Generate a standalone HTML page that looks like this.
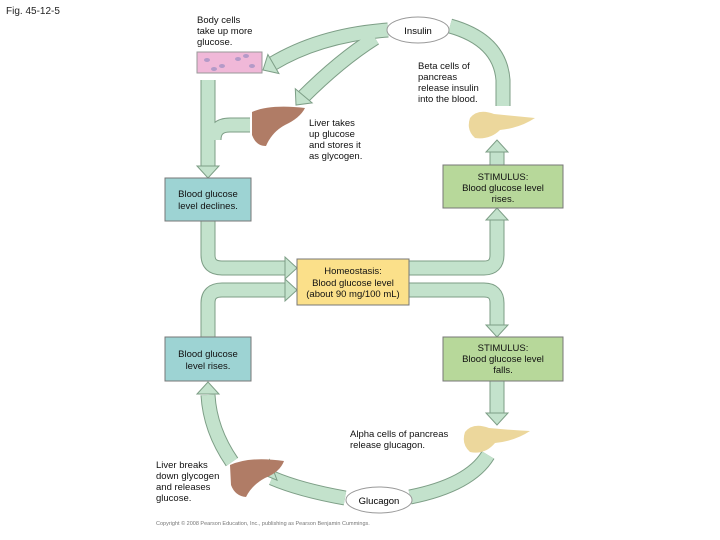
<!DOCTYPE html>
<html><head><meta charset="utf-8"><style>
body{margin:0;background:#fff;}
svg{display:block;font-family:"Liberation Sans",sans-serif;}
</style></head><body>
<svg width="720" height="540" viewBox="0 0 720 540" xmlns="http://www.w3.org/2000/svg">
<defs>
<g id="ah"><polygon points="-11,-12 11,-12 0,0" fill="#c3e2cc" stroke="#7d9e86" stroke-width="1"/></g>
</defs>
<text x="6" y="14" font-size="10" fill="#222">Fig. 45-12-5</text>
<g fill="none" stroke-linecap="butt" stroke-linejoin="round">
<g stroke="#7d9e86" stroke-width="15">
<path d="M208 80 V166"/>
<path d="M250 125 H230 Q214 125 214 140"/>
<path d="M208 221 V255 Q208 268 222 268 H286"/>
<path d="M409 268 H484 Q497 268 497 255 V220"/>
<path d="M497 165 V152"/>
<path d="M503 106 V80 Q500 40 450 26"/>
<path d="M388 30 Q320 35 272 64"/>
<path d="M375 38 Q340 60 302 98"/>
<path d="M409 290 H484 Q497 290 497 303 V326"/>
<path d="M497 381 V414"/>
<path d="M488 455 Q470 485 410 497"/>
<path d="M345 498 Q300 490 272 478"/>
<path d="M232 462 Q210 430 208 395"/>
<path d="M208 337 V303 Q208 290 222 290 H286"/>
</g>
<g stroke="#c3e2cc" stroke-width="13">
<path d="M208 80 V166"/>
<path d="M250 125 H230 Q214 125 214 140"/>
<path d="M208 221 V255 Q208 268 222 268 H286"/>
<path d="M409 268 H484 Q497 268 497 255 V220"/>
<path d="M497 165 V152"/>
<path d="M503 106 V80 Q500 40 450 26"/>
<path d="M388 30 Q320 35 272 64"/>
<path d="M375 38 Q340 60 302 98"/>
<path d="M409 290 H484 Q497 290 497 303 V326"/>
<path d="M497 381 V414"/>
<path d="M488 455 Q470 485 410 497"/>
<path d="M345 498 Q300 490 272 478"/>
<path d="M232 462 Q210 430 208 395"/>
<path d="M208 337 V303 Q208 290 222 290 H286"/>
</g>
</g>
<use href="#ah" transform="translate(208,178)"/>
<use href="#ah" transform="translate(297,268) rotate(-90)"/>
<use href="#ah" transform="translate(297,290) rotate(-90)"/>
<use href="#ah" transform="translate(497,208) rotate(180)"/>
<use href="#ah" transform="translate(497,140) rotate(180)"/>
<use href="#ah" transform="translate(497,337)"/>
<use href="#ah" transform="translate(497,425)"/>
<use href="#ah" transform="translate(263,70) rotate(60)"/>
<use href="#ah" transform="translate(296,105) rotate(40)"/>
<use href="#ah" transform="translate(262,474) rotate(70)"/>
<use href="#ah" transform="translate(208,382) rotate(180)"/>
<rect x="165" y="178" width="86" height="43" fill="#9dd3d3" stroke="#777" stroke-width="1"/>
<text font-size="9.5" text-anchor="middle" fill="#111"><tspan x="208" y="197">Blood glucose</tspan><tspan x="208" y="209">level declines.</tspan></text>
<rect x="443" y="165" width="120" height="43" fill="#b7d89a" stroke="#777" stroke-width="1"/>
<text font-size="9.5" text-anchor="middle" fill="#111"><tspan x="503" y="180">STIMULUS:</tspan><tspan x="503" y="191">Blood glucose level</tspan><tspan x="503" y="202">rises.</tspan></text>
<rect x="297" y="259" width="112" height="46" fill="#fbe08a" stroke="#777" stroke-width="1"/>
<text font-size="9.5" text-anchor="middle" fill="#111"><tspan x="353" y="274">Homeostasis:</tspan><tspan x="353" y="286">Blood glucose level</tspan><tspan x="353" y="297">(about 90 mg/100 mL)</tspan></text>
<rect x="165" y="337" width="86" height="44" fill="#9dd3d3" stroke="#777" stroke-width="1"/>
<text font-size="9.5" text-anchor="middle" fill="#111"><tspan x="208" y="357">Blood glucose</tspan><tspan x="208" y="369">level rises.</tspan></text>
<rect x="443" y="337" width="120" height="44" fill="#b7d89a" stroke="#777" stroke-width="1"/>
<text font-size="9.5" text-anchor="middle" fill="#111"><tspan x="503" y="351">STIMULUS:</tspan><tspan x="503" y="362">Blood glucose level</tspan><tspan x="503" y="373">falls.</tspan></text>
<ellipse cx="418" cy="30" rx="31" ry="13" fill="#fff" stroke="#999"/>
<text x="418" y="34" font-size="9.5" text-anchor="middle">Insulin</text>
<ellipse cx="379" cy="500" rx="33" ry="13" fill="#fff" stroke="#999"/>
<text x="379" y="504" font-size="9.5" text-anchor="middle">Glucagon</text>
<rect x="197" y="52" width="65" height="21" fill="#f0b8d8" stroke="#999"/>
<g fill="#b49ac8"><ellipse cx="207" cy="60" rx="3" ry="2"/><ellipse cx="222" cy="66" rx="3" ry="2"/><ellipse cx="238" cy="59" rx="3" ry="2"/><ellipse cx="252" cy="66" rx="3" ry="2"/><ellipse cx="214" cy="69" rx="3" ry="2"/><ellipse cx="246" cy="56" rx="3" ry="2"/></g>
<path d="M252 112 Q270 104 305 108 Q300 118 285 125 Q272 132 266 146 Q256 146 252 135 Z" fill="#b07c66"/>
<path d="M230 465 Q250 456 284 461 Q280 472 265 478 Q252 485 246 497 Q235 496 231 485 Z" fill="#b07c66"/>
<path d="M470 118 Q478 108 494 114 Q515 116 535 118 Q520 128 500 130 Q490 140 475 138 Q466 130 470 118 Z" fill="#ecd79c"/>
<path d="M465 432 Q473 422 489 428 Q510 430 530 431 Q515 441 495 443 Q485 455 470 452 Q461 444 465 432 Z" fill="#ecd79c"/>
<text font-size="9.5" fill="#111"><tspan x="197" y="23">Body cells</tspan><tspan x="197" y="34">take up more</tspan><tspan x="197" y="45">glucose.</tspan></text>
<text font-size="9.5" fill="#111"><tspan x="418" y="69">Beta cells of</tspan><tspan x="418" y="80">pancreas</tspan><tspan x="418" y="91">release insulin</tspan><tspan x="418" y="102">into the blood.</tspan></text>
<text font-size="9.5" fill="#111"><tspan x="309" y="126">Liver takes</tspan><tspan x="309" y="137">up glucose</tspan><tspan x="309" y="148">and stores it</tspan><tspan x="309" y="159">as glycogen.</tspan></text>
<text font-size="9.5" fill="#111"><tspan x="350" y="437">Alpha cells of pancreas</tspan><tspan x="350" y="448">release glucagon.</tspan></text>
<text font-size="9.5" fill="#111"><tspan x="156" y="468">Liver breaks</tspan><tspan x="156" y="479">down glycogen</tspan><tspan x="156" y="490">and releases</tspan><tspan x="156" y="501">glucose.</tspan></text>
<text x="156" y="525" font-size="5.5" fill="#777">Copyright © 2008 Pearson Education, Inc., publishing as Pearson Benjamin Cummings.</text>
</svg>
</body></html>
